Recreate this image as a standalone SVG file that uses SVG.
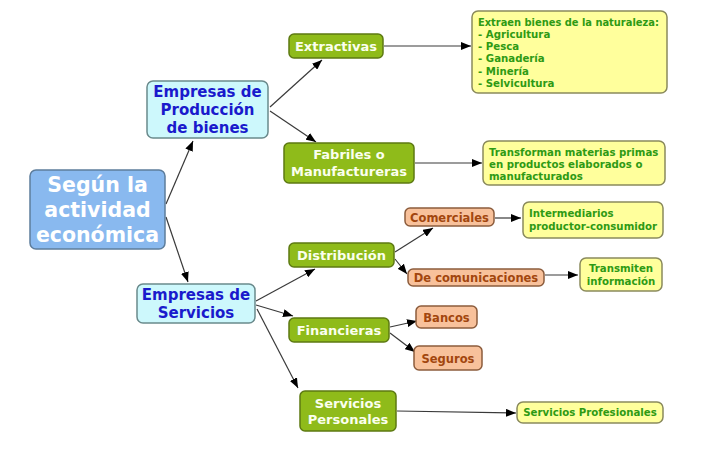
<svg xmlns="http://www.w3.org/2000/svg" width="727" height="457" viewBox="0 0 727 457">
<defs>
<marker id="ah" markerWidth="10" markerHeight="8" refX="10" refY="4" orient="auto" markerUnits="userSpaceOnUse">
<path d="M0,0 L10,4 L0,8 z" fill="#000"/>
</marker>
<style>
text{font-family:"DejaVu Sans","Verdana",sans-serif;font-weight:bold;text-anchor:middle}
.root rect{fill:#89b9ef;stroke:#5d7d9c;stroke-width:1.5}
.root text{fill:#fff;font-size:20.5px}
.cy rect{fill:#cdf8fc;stroke:#6a8a8c;stroke-width:1.5}
.cy text{fill:#1a1acc;font-size:15px}
.gr rect{fill:#8fbb1a;stroke:#5d7a12;stroke-width:1.5}
.gr text{fill:#fbffee;font-size:13px}
.ye rect{fill:#ffff9c;stroke:#8a8a5c;stroke-width:1.5}
.ye text{fill:#2e9a14;font-size:10.2px}
.ye text.l{text-anchor:start}
.ye text.s{font-size:9.9px}
.or rect{fill:#f8c19b;stroke:#8c5c3c;stroke-width:1.5}
.or text{fill:#a2460e;font-size:11.5px}
#connectors line{stroke:#3a3a3a;stroke-width:1.2;marker-end:url(#ah)}
</style>
</defs>
<rect width="727" height="457" fill="#fff"/>
<g id="connectors">
<line x1="166" y1="204" x2="193" y2="141"/>
<line x1="166" y1="217" x2="188" y2="282"/>
<line x1="270" y1="107" x2="322" y2="60"/>
<line x1="270" y1="111" x2="316" y2="142"/>
<line x1="384" y1="46" x2="471" y2="46"/>
<line x1="415" y1="163" x2="482" y2="163"/>
<line x1="256" y1="301" x2="315" y2="269"/>
<line x1="256" y1="305" x2="293" y2="316"/>
<line x1="257" y1="309" x2="298" y2="388"/>
<line x1="395" y1="252" x2="433" y2="228"/>
<line x1="395" y1="259" x2="407" y2="274"/>
<line x1="495" y1="218" x2="521" y2="218"/>
<line x1="545" y1="275" x2="578" y2="275"/>
<line x1="390" y1="327" x2="417" y2="321"/>
<line x1="390" y1="333" x2="415" y2="352"/>
<line x1="397" y1="411" x2="516" y2="413"/>
</g>
<g id="root" class="root">
<rect x="30" y="170" width="135" height="79" rx="6"/>
<text x="97.5" y="192">Según la</text>
<text x="97.5" y="217">actividad</text>
<text x="97.5" y="242">económica</text>
</g>
<g id="produccion" class="cy">
<rect x="147" y="81" width="121" height="57" rx="6"/>
<text x="207.5" y="97">Empresas de</text>
<text x="207.5" y="115">Producción</text>
<text x="207.5" y="133">de bienes</text>
</g>
<g id="servicios" class="cy">
<rect x="137" y="284" width="118" height="39" rx="6"/>
<text x="196" y="300">Empresas de</text>
<text x="196" y="318">Servicios</text>
</g>
<g id="extractivas" class="gr">
<rect x="289" y="34" width="94" height="24" rx="5"/>
<text x="336" y="51">Extractivas</text>
</g>
<g id="fabriles" class="gr">
<rect x="284" y="143" width="130" height="40" rx="5"/>
<text x="349" y="159">Fabriles o</text>
<text x="349" y="176">Manufactureras</text>
</g>
<g id="distribucion" class="gr">
<rect x="289" y="243" width="105" height="24" rx="5"/>
<text x="341.5" y="260">Distribución</text>
</g>
<g id="financieras" class="gr">
<rect x="289" y="318" width="100" height="24" rx="5"/>
<text x="339" y="335">Financieras</text>
</g>
<g id="personales" class="gr">
<rect x="300" y="391" width="96" height="40" rx="5"/>
<text x="348" y="408">Servicios</text>
<text x="348" y="424">Personales</text>
</g>
<g id="extraen" class="ye">
<rect x="472" y="11" width="195" height="82" rx="6"/>
<text class="l s" x="478" y="26">Extraen bienes de la naturaleza:</text>
<text class="l" x="478" y="38">- Agricultura</text>
<text class="l" x="478" y="50">- Pesca</text>
<text class="l" x="478" y="62">- Ganadería</text>
<text class="l" x="478" y="75">- Minería</text>
<text class="l" x="478" y="87">- Selvicultura</text>
</g>
<g id="transforman" class="ye">
<rect x="483" y="141" width="182" height="44" rx="6"/>
<text class="l" x="489" y="156">Transforman materias primas</text>
<text class="l" x="489" y="168">en productos elaborados o</text>
<text class="l" x="489" y="180">manufacturados</text>
</g>
<g id="intermediarios" class="ye">
<rect x="523" y="202" width="140" height="36" rx="6"/>
<text class="l" x="529" y="217">Intermediarios</text>
<text class="l" x="529" y="230">productor-consumidor</text>
</g>
<g id="transmiten" class="ye">
<rect x="580" y="258" width="82" height="33" rx="6"/>
<text x="621" y="272">Transmiten</text>
<text x="621" y="285">información</text>
</g>
<g id="profesionales" class="ye">
<rect x="517" y="402" width="146" height="21" rx="6"/>
<text x="590" y="416">Servicios Profesionales</text>
</g>
<g id="comerciales" class="or">
<rect x="405" y="208" width="89" height="18" rx="5"/>
<text x="449.5" y="221.5">Comerciales</text>
</g>
<g id="comunicaciones" class="or">
<rect x="408" y="269" width="136" height="17" rx="5"/>
<text x="476" y="282">De comunicaciones</text>
</g>
<g id="bancos" class="or">
<rect x="416" y="306" width="61" height="22" rx="5"/>
<text x="446.5" y="321.5">Bancos</text>
</g>
<g id="seguros" class="or">
<rect x="414" y="346" width="68" height="24" rx="5"/>
<text x="448" y="362.5">Seguros</text>
</g>
</svg>
